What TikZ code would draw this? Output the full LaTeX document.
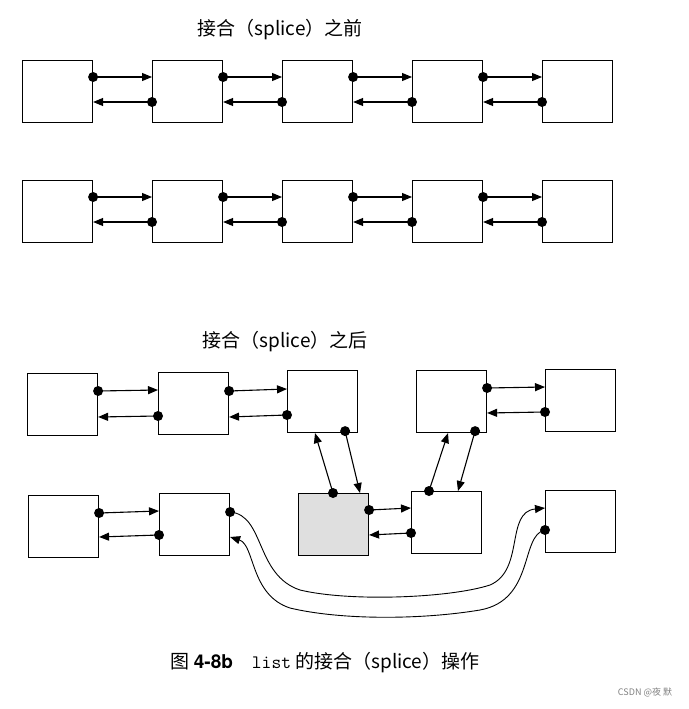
\documentclass[tikz,border=0pt]{standalone}
\usepackage{fontspec}
\newfontfamily\cjk{Noto Sans CJK SC}
\newfontfamily\heros{TeX Gyre Heros}
\usetikzlibrary{arrows.meta,calc}
\tikzset{
 bx/.style={draw,line width=1.1pt,minimum width=70pt,minimum height=62pt,inner sep=0pt,anchor=north west},
 sh/.style={bx,fill=gray!25},
 ar/.style={line width=1.1pt,-{Triangle[length=10pt,width=8pt]}},
 dt/.style={circle,fill,inner sep=0pt,minimum size=10pt},
 ttl/.style={font=\cjk\fontsize{19}{21}\selectfont}
}
\newcommand{\lnk}[4]{%
 \draw[ar] ($(#1.north east)+(0,#3)$) node[dt]{} -- ($(#2.north west)+(0,#3)$);
 \draw[ar] ($(#2.north west)+(0,#4)$) node[dt]{} -- ($(#1.north east)+(0,#4)$);}
\begin{document}
\begin{tikzpicture}[x=1pt,y=-1pt]
\useasboundingbox (0,0) rectangle (688,709);
\node[ttl] (t1) at (280,30) {接合（splice）之前};
\foreach \r/\yy in {a/60,b/180}{
 \foreach \i/\xx in {1/22,2/152,3/282,4/412,5/542}{
  \node[bx] (\r\i) at (\xx,\yy) {};}
 \lnk{\r1}{\r2}{17}{42}\lnk{\r2}{\r3}{17}{42}\lnk{\r3}{\r4}{17}{42}\lnk{\r4}{\r5}{17}{42}}
\node[ttl] (t2) at (285,342) {接合（splice）之后};
\node[bx] (A) at (27,373) {};
\node[bx] (B) at (158,372) {};
\node[bx] (C) at (287,370) {};
\node[bx] (D) at (416,370) {};
\node[bx] (E) at (545,369) {};
\node[bx] (F) at (28,495) {};
\node[bx] (G) at (159,493) {};
\node[sh] (H) at (298,493) {};
\node[bx] (I) at (411,491) {};
\node[bx] (J) at (545,490) {};
\lnk{A}{B}{18}{44}\lnk{B}{C}{19}{45}\lnk{D}{E}{18}{43}
\lnk{F}{G}{18}{42}\lnk{H}{I}{17}{42}
% vertical links
\draw[ar] ($(H.north west)+(35,0)$) node[dt]{} -- ($(C.south west)+(28,0)$);
\draw[ar] ($(C.south east)+(-13,-2)$) node[dt]{} -- ($(H.north west)+(62,0)$);
\draw[ar] ($(I.north west)+(18,0)$) node[dt]{} -- ($(D.south west)+(32,0)$);
\draw[ar] ($(D.south east)+(-12,-2)$) node[dt]{} -- ($(I.north west)+(47,0)$);
% curves
\coordinate (g1) at ($(G.north east)+(0,19)$);
\coordinate (g2) at ($(G.north east)+(0,44)$);
\coordinate (j1) at ($(J.north west)+(0,18)$);
\coordinate (j2) at ($(J.north west)+(0,40)$);
\draw[ar,line width=0.9pt] (g1) node[dt]{} .. controls (265,515) and (255,575) .. (300,590)
  .. controls (350,602) and (450,598) .. (490,585)
  .. controls (525,570) and (505,512) .. (j1);
\draw[ar,line width=0.9pt] (j2) node[dt]{} .. controls (520,535) and (535,600) .. (480,610)
  .. controls (420,620) and (340,620) .. (290,608)
  .. controls (250,595) and (255,545) .. (g2);
\node[font=\cjk\fontsize{19}{21}\selectfont] (cap) at (325,663) {图 {\heros\bfseries 4-8b}\quad{\ttfamily list} 的接合（splice）操作};
\node[font=\cjk\fontsize{9}{10}\selectfont,text=gray] (wm) at (645,692) {CSDN @夜 默};
\end{tikzpicture}
\end{document}
